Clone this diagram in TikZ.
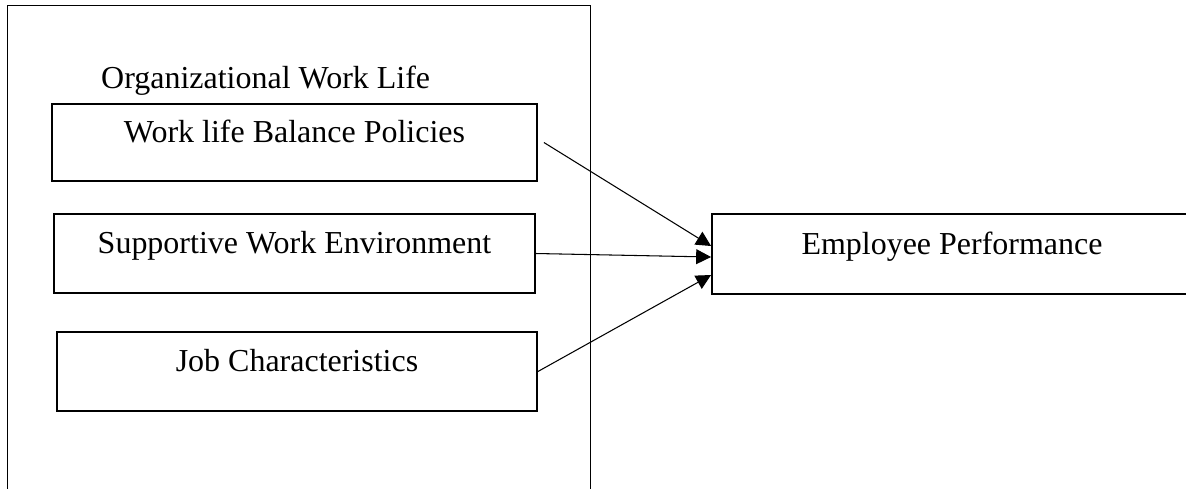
\documentclass[tikz,border=0pt]{standalone}
\usepackage{fontspec}
\setmainfont{Liberation Serif}
\usetikzlibrary{arrows.meta,positioning}

\begin{document}
\begin{tikzpicture}[
    x=0.02cm,y=-0.02cm,
    font=\fontsize{18.2}{22}\selectfont,
    box/.style={draw,line width=1.1pt,inner sep=0pt,minimum height=1.58cm,
                text height=0.7em,text depth=0.7em,align=center},
    link/.style={line width=0.6pt,-{Triangle[length=8.5pt,width=8.5pt]}}
  ]
    \clip (0,0) rectangle (1186,488);
    % outer frame, open at the bottom
    \draw[line width=0.5pt] (7,500) |- (590,5) -- (590,500);
    \node[anchor=base west] (owl) at (95,88) {Organizational Work Life};
    \node[box,minimum width=9.7cm,minimum height=1.54cm] (wlb) at (294.5,142.5)
          {Work life Balance Policies};
    \node[box,minimum width=9.62cm] (swe) at (294.5,253.5)
          {Supportive Work Environment};
    \node[box,minimum width=9.6cm] (jc) at (297,371.5)
          {Job Characteristics};
    \node[box,minimum width=9.6cm,minimum height=1.6cm] (perf) at (952,254)
          {Employee Performance};
    \draw[link] ([xshift=0.12cm]wlb.east) -- ([yshift=0.16cm]perf.west);
    \draw[link] (swe.east) -- ([yshift=-0.06cm]perf.west);
    \draw[link] (jc.east) -- ([yshift=-0.42cm]perf.west);
\end{tikzpicture}
\end{document}
